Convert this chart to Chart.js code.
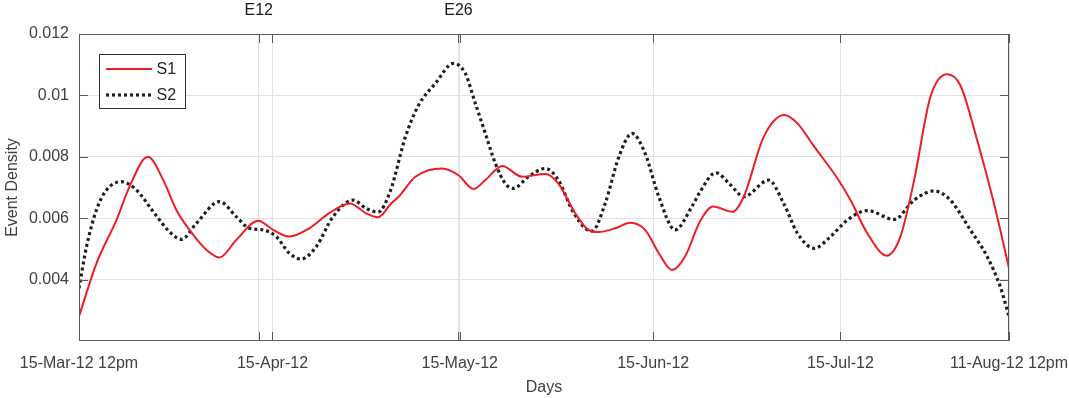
<!DOCTYPE html>
<html>
<head>
<meta charset="utf-8">
<script src="https://cdn.jsdelivr.net/npm/chart.js@4/dist/chart.umd.min.js"></script>
<style>
  html, body { margin: 0; padding: 0; background: #ffffff; }
  #wrap { width: 1069px; height: 398px; }
</style>
</head>
<body>
<div id="wrap"><canvas id="c" width="1069" height="398"></canvas></div>
<script>
// ---- data (days counted from 15-Mar-12 12pm) ----
const xTickDays   = [0, 31, 61, 92, 122, 149];
const xTickLabels = ['15-Mar-12 12pm', '15-Apr-12', '15-May-12', '15-Jun-12', '15-Jul-12', '11-Aug-12 12pm'];
const eventDays   = [28.8, 60.8];
const eventLabels = ['E12', 'E26'];
const yTickValues = [0.004, 0.006, 0.008, 0.010, 0.012];
const yTickLabels = ['0.004', '0.006', '0.008', '0.01', '0.012'];
const seriesNames = ['S1', 'S2'];

const s1Days = [0, 2.8, 6.0, 8.1, 11.05, 13.5, 15.6, 17.7, 20.4, 22.5, 25.2, 28.7, 31.1, 33.7, 36.9, 40.2, 43.4, 46.0, 47.9, 50.0, 51.2, 53.9, 58.2, 60.8, 63.2, 65.1, 67.8, 71.0, 74.7, 76.8, 79.5, 81.6, 83.2, 85.9, 88.3, 90.7, 92.9, 95.0, 97.1, 99.5, 101.6, 104.7, 106.5, 109.7, 113.0, 115.1, 117.8, 121.5, 123.6, 126.3, 129.4, 131.6, 133.8, 136.4, 139.1, 141.2, 143.9, 146.6, 149];
const s1Values = [0.0028, 0.00453, 0.00594, 0.00703, 0.0080, 0.00724, 0.00627, 0.00562, 0.00497, 0.00472, 0.00529, 0.00592, 0.00562, 0.0054, 0.00567, 0.00618, 0.00648, 0.00616, 0.00603, 0.00648, 0.0067, 0.00735, 0.00762, 0.0074, 0.00695, 0.00724, 0.0077, 0.00735, 0.00744, 0.00713, 0.00616, 0.00562, 0.00555, 0.00567, 0.00585, 0.00562, 0.00486, 0.00431, 0.00475, 0.0059, 0.00638, 0.00621, 0.0067, 0.00865, 0.00936, 0.00909, 0.00833, 0.0073, 0.00659, 0.00551, 0.00478, 0.0054, 0.00724, 0.00995, 0.01069, 0.01033, 0.00854, 0.00648, 0.00437];

const s2Days = [0, 1.2, 2.8, 4.4, 6.8, 9.2, 11.9, 14.5, 16.4, 18.8, 22.5, 25.2, 27.3, 29.5, 31.6, 33.7, 35.6, 38.0, 40.7, 43.9, 46.0, 47.9, 49.9, 52.3, 54.4, 57.1, 60.0, 61.9, 63.5, 65.1, 66.7, 68.3, 69.6, 72.0, 74.7, 76.8, 79.0, 81.1, 82.2, 84.3, 86.5, 88.6, 90.7, 92.9, 95.5, 98.2, 99.5, 102.0, 104.4, 106.5, 110.5, 112.9, 115.1, 117.8, 120.4, 123.1, 126.3, 130.6, 133.8, 137.0, 139.6, 142.8, 145.5, 147.6, 149];
const s2Values = [0.00372, 0.00507, 0.00627, 0.00692, 0.00719, 0.00692, 0.00621, 0.00556, 0.00531, 0.00583, 0.00654, 0.00605, 0.00567, 0.00562, 0.0054, 0.00486, 0.00467, 0.00507, 0.00605, 0.00659, 0.00632, 0.0062, 0.0069, 0.00865, 0.00968, 0.01039, 0.01104, 0.01071, 0.00974, 0.00876, 0.00779, 0.00713, 0.00697, 0.00735, 0.00762, 0.00724, 0.00627, 0.00567, 0.00558, 0.00648, 0.008, 0.00876, 0.00811, 0.0067, 0.00562, 0.00638, 0.00686, 0.00748, 0.00708, 0.0067, 0.00724, 0.00648, 0.00551, 0.00502, 0.0054, 0.00594, 0.00625, 0.00596, 0.00659, 0.00689, 0.00659, 0.00562, 0.00475, 0.00377, 0.0028];

const zip = (xs, ys) => xs.map((x, i) => ({ x: x, y: ys[i] }));

const FONT = "'Liberation Sans', Arial, Helvetica, sans-serif";
const TEXT = '#404040';
const GRID = '#e2e2e2';
const AXIS = '#5a5a5a';

Chart.defaults.font.family = FONT;
Chart.defaults.font.size = 16;
Chart.defaults.color = TEXT;

const matlabAxes = {
  id: 'matlabAxes',
  afterDraw(chart) {
    const ctx = chart.ctx, a = chart.chartArea;
    const sx = chart.scales.x, sy = chart.scales.y;
    ctx.save();
    ctx.strokeStyle = AXIS;
    ctx.lineWidth = 1;
    ctx.setLineDash([]);
    ctx.strokeRect(a.left + 0.5, a.top + 0.5, a.right - a.left - 1, a.bottom - a.top - 1);
    const TL = 9;
    ctx.beginPath();
    xTickDays.concat(eventDays).forEach(v => {
      const px = Math.round(sx.getPixelForValue(v)) + 0.5;
      ctx.moveTo(px, a.bottom); ctx.lineTo(px, a.bottom - TL);
      ctx.moveTo(px, a.top); ctx.lineTo(px, a.top + TL);
    });
    yTickValues.forEach(v => {
      const py = Math.round(sy.getPixelForValue(v)) + 0.5;
      ctx.moveTo(a.left, py); ctx.lineTo(a.left + TL, py);
      ctx.moveTo(a.right, py); ctx.lineTo(a.right - TL, py);
    });
    ctx.stroke();

    // legend box
    const lx = a.left + 20.5, ly = a.top + 20.5, lw = 86, lh = 54;
    ctx.fillStyle = '#ffffff';
    ctx.fillRect(lx, ly, lw, lh);
    ctx.strokeStyle = '#303030';
    ctx.strokeRect(lx, ly, lw, lh);
    chart.data.datasets.forEach((ds, i) => {
      const yy = ly + 14.5 + i * 26;
      ctx.save();
      ctx.strokeStyle = ds.borderColor;
      ctx.lineWidth = ds.borderWidth;
      ctx.setLineDash(ds.borderDash || []);
      ctx.lineCap = 'butt';
      ctx.beginPath();
      ctx.moveTo(lx + 6.5, yy);
      ctx.lineTo(lx + 52.5, yy);
      ctx.stroke();
      ctx.restore();
      ctx.fillStyle = '#262626';
      ctx.font = '16px ' + FONT;
      ctx.textBaseline = 'middle';
      ctx.textAlign = 'left';
      ctx.fillText(ds.label, lx + 57, yy + 0.5);
    });
    ctx.restore();
  }
};

new Chart(document.getElementById('c'), {
  type: 'line',
  data: {
    datasets: [
      {
        label: seriesNames[0],
        data: zip(s1Days, s1Values),
        borderColor: '#ee1c25',
        borderWidth: 2,
        pointRadius: 0,
        fill: false,
        cubicInterpolationMode: 'monotone'
      },
      {
        label: seriesNames[1],
        data: zip(s2Days, s2Values),
        borderColor: '#1e1e1e',
        borderWidth: 3.2,
        borderDash: [3, 3],
        borderCapStyle: 'butt',
        pointRadius: 0,
        fill: false,
        cubicInterpolationMode: 'monotone'
      }
    ]
  },
  options: {
    responsive: false,
    animation: false,
    devicePixelRatio: 1,
    layout: { padding: { left: 0, right: 60, top: 0, bottom: 0 } },
    plugins: { legend: { display: false }, tooltip: { enabled: false } },
    scales: {
      x: {
        type: 'linear',
        position: 'bottom',
        min: 0, max: 149,
        afterBuildTicks: s => { s.ticks = xTickDays.map(v => ({ value: v })); },
        ticks: {
          autoSkip: false, maxRotation: 0, minRotation: 0, padding: 13,
          callback: (v, i) => xTickLabels[i]
        },
        grid: { color: GRID, drawTicks: false, lineWidth: 1 },
        border: { display: false },
        title: { display: true, text: 'Days', color: TEXT, font: { size: 16 }, padding: { top: 0, bottom: 1 } },
        afterFit: s => { s.height = 57; s.paddingLeft = 0; s.paddingRight = 0; }
      },
      xTop: {
        type: 'linear',
        position: 'top',
        min: 0, max: 149,
        afterBuildTicks: s => { s.ticks = eventDays.map(v => ({ value: v })); },
        ticks: {
          autoSkip: false, maxRotation: 0, minRotation: 0, padding: 14,
          color: '#1a1a1a',
          callback: (v, i) => eventLabels[i]
        },
        grid: { color: GRID, drawTicks: false, lineWidth: 1 },
        border: { display: false },
        afterFit: s => { s.height = 34; s.paddingLeft = 0; s.paddingRight = 0; }
      },
      y: {
        type: 'linear',
        position: 'left',
        min: 0.002, max: 0.012,
        afterBuildTicks: s => { s.ticks = yTickValues.map(v => ({ value: v })); },
        ticks: { padding: 10, callback: (v, i) => yTickLabels[i] },
        grid: { color: GRID, drawTicks: false, lineWidth: 1 },
        border: { display: false },
        title: { display: true, text: 'Event Density', color: TEXT, font: { size: 16 }, padding: { top: 3, bottom: 0 } },
        afterFit: s => { s.width = 79; s.paddingTop = 0; s.paddingBottom = 0; }
      }
    }
  },
  plugins: [matlabAxes]
});
</script>
</body>
</html>
